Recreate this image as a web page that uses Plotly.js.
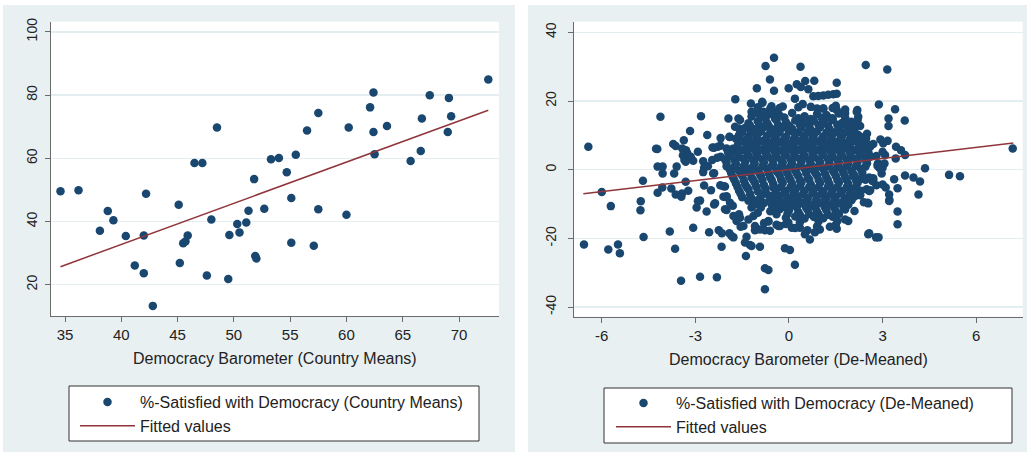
<!DOCTYPE html>
<html><head><meta charset="utf-8">
<script src="https://cdn.plot.ly/plotly-3.0.1.min.js"></script>
<style>html,body{margin:0;padding:0;background:#fff;} #chart{width:1027px;height:456px;}</style>
</head><body><div id="chart"></div>
<script>
// ---------- Left panel: country means ----------
const countryMeansX = [34.6,36.2,38.1,38.8,39.3,40.4,41.2,42.0,42.0,42.2,42.8,45.1,45.2,45.5,45.7,45.9,46.5,47.2,47.6,48.0,48.5,49.5,49.6,50.3,50.5,51.1,51.3,51.8,51.9,52.0,52.7,53.3,54.0,54.7,55.1,55.1,55.5,56.5,57.1,57.5,57.5,60.0,60.2,62.1,62.4,62.4,62.5,63.6,65.7,66.6,66.7,67.4,69.0,69.1,69.3,72.6];
const countryMeansY = [49.6,49.9,37.1,43.3,40.4,35.4,26.1,35.6,23.6,48.8,13.3,45.3,26.9,33.1,33.7,35.6,58.5,58.5,22.9,40.6,69.7,21.8,35.7,39.2,36.5,39.7,43.4,53.4,29.1,28.3,44.0,59.7,60.1,55.6,47.4,33.3,61.1,68.8,32.3,74.3,43.9,42.1,69.7,76.1,80.8,68.3,61.3,70.2,59.1,62.3,72.6,79.9,68.3,79.1,73.3,84.9];
const fitMeansX = [34.6, 72.6];
const fitMeansY = [25.7, 75.2];

// ---------- Right panel: de-meaned (x, y) ----------
const demeanedPoints = [
 // sparse / outer
 [-6.43,6.7],[-6.57,-21.8],[-6.0,-6.5],[-5.79,-23.2],[-5.71,-10.6],[-5.48,-21.8],[-5.42,-24.3],[-4.75,-9.2],[-4.76,-11.8],[-4.68,-3.2],[-4.66,-19.6],
 [-4.26,6.1],[-4.22,6.0],[-4.12,15.4],[-4.21,0.9],[-4.21,-6.7],[-4.05,0.9],[-4.05,-1.1],[-4.06,-5.2],[-3.82,-18.0],[-3.71,7.5],[-3.63,6.9],[-3.68,-1.1],[-3.65,-23.0],
 [-3.6,0.9],[-3.46,-32.3],[-3.37,8.6],[-3.3,5.7],[-3.42,6.2],[-3.35,2.8],[-3.26,4.8],[-3.15,3.8],[-3.4,4.2],[-3.43,-6.9],[-3.31,-3.5],[-3.23,-6.1],[-3.77,-5.5],[-3.63,-7.2],[-3.45,-7.9],
 [-3.31,2.3],[-3.07,2.6],[-3.17,11.3],[-3.07,-16.9],[-2.96,-11.0],[-2.92,5.2],[-2.85,-9.0],[-2.92,-9.1],[-2.85,-31.2],[-2.82,15.6],[-2.75,2.5],[-2.72,0.6],[-2.75,-0.7],[-2.72,-4.6],
 [-2.64,-12.2],[-2.62,10.1],[-2.56,-18.2],[-2.45,6.5],[-2.4,6.4],[-2.28,6.7],[-2.46,2.8],[-2.43,-1.1],[-2.37,-9.8],[-2.4,-10.1],[-2.31,-31.3],[-2.25,-17.6],[-2.19,9.2],[-2.19,3.8],
 [-2.16,-22.4],[-2.1,-7.9],[-2.05,-4.9],[-2.0,-11.7],[-2.1,-4.8],[-2.0,-7.7],[-1.89,-9.6],[-2.05,-11.5],[-2.15,-18.5],[-1.94,14.9],[-1.91,9.6],[-1.89,4.8],[-1.91,-18.5],[-1.78,-19.7],
 [-1.84,-19.3],[-1.72,20.5],[-1.73,12.5],[-1.68,-14.2],[-1.57,14.5],[-1.62,14.9],[-1.62,8.6],[-2.0,6.2],[-1.55,-16.6],[-1.46,-1.1],[-1.41,8.6],[-1.38,-25.1],[-1.36,-19.5],[-1.41,-21.2],
 [-1.25,-21.9],[-1.2,-22.2],[-1.22,19.3],[-1.22,10.8],[-1.14,-9.8],[-1.09,-17.6],[-1.03,23.7],[-0.98,16.4],[-1.2,16.9],[-0.93,-22.4],[-0.85,19.5],[-0.86,19.8],[-0.77,-28.7],[-0.66,-29.2],
 [-0.77,-34.8],[-0.75,30.2],[-0.61,26.3],[-0.77,-17.6],[-0.66,-15.1],[-0.48,32.6],[-0.48,23.0],[-0.56,18.5],[-0.4,16.9],[-0.82,16.9],[-0.34,-16.4],[-0.13,-22.9],[0.03,-23.4],
 [-0.01,23.7],[0.19,-27.7],[0.19,20.7],[0.25,24.9],[0.37,30.0],[0.38,24.1],[0.44,19.1],[0.52,25.8],[0.62,23.4],[0.81,25.9],[0.78,21.4],[0.94,21.5],[1.1,21.6],[1.26,21.8],[1.42,22.0],
 [1.53,22.1],[1.53,25.3],[0.59,-17.6],[0.67,-20.3],[0.51,-18.8],[0.35,-16.9],[0.83,-18.2],[0.99,-17.4],[1.31,-16.6],[1.53,-17.2],[1.55,-14.9],[1.9,-14.9],[2.0,-8.8],
 [-0.29,-16.4],[-0.02,-15.4],[0.09,-16.9],[-0.66,-14.9],[-1.14,-13.5],[-1.09,-16.4],[-0.93,-17.4],[-0.61,-17.8],[-1.57,-14.0],[-1.46,-16.4],[-1.68,-14.9],[-1.78,-13.5],
 [2.46,30.5],[3.15,29.2],[2.19,17.4],[2.17,16.9],[2.22,15.4],[2.28,12.7],[1.9,13.5],[2.47,9.1],[1.1,17.8],[1.26,15.2],[1.53,17.4],
 [2.57,-18.5],[2.79,-19.7],[2.87,-19.7],[2.54,-18.8],[2.88,19.0],[3.19,14.9],[3.19,12.7],[3.4,17.6],[3.71,14.3],[3.48,-12.2],[3.48,-15.9],[3.48,-5.4],[3.22,-8.8],[3.21,-9.1],[3.21,-7.2],
 [3.42,3.3],[3.43,6.7],[3.72,-1.7],[3.99,-2.3],[4.15,-7.2],[4.2,-3.4],[4.36,0.4],[5.13,-1.5],[5.48,-1.9],[7.17,6.2],[3.59,5.7],[3.72,4.3],[3.02,7.7],[3.08,4.3],[2.93,8.8],[3.16,8.4],
 [2.57,7.2],[3.0,5.2],[3.06,1.8],[2.84,1.6],[2.86,1.8],[2.97,-1.1],[3.0,0.6],[2.84,1.1],[2.7,-3.0],[2.8,-4.5],[2.67,-3.3],[3.0,-4.3],[3.1,-5.2],[3.37,-2.8],[2.57,-2.3],[2.57,-6.2],
 [2.52,-9.6],[2.54,-9.8],[2.28,-7.4],[2.28,-7.2],[2.49,-5.7],[2.28,-2.8],[2.06,-1.8],[2.6,6.7],[2.44,8.6],[2.22,10.1],[2.6,3.8],[2.52,4.0],
 // ring around the dense core
 [-2.2,7.0],[-2.3,3.5],[-2.4,-1.0],[-2.2,-4.5],[-2.0,-8.0],[-1.8,-10.5],[-1.6,-13.0],[-1.3,-14.5],[-1.0,-12.5],[-0.8,-15.5],[-0.4,-16.0],[-2.6,1.0],[-2.5,-6.0],
 [-1.9,9.5],[-1.6,12.0],[-1.2,15.5],[-0.3,18.0],[0.3,18.2],[0.9,17.8],[1.4,18.0],[1.8,16.5],[2.2,14.5],[2.5,10.5],[2.7,7.5],[2.8,4.0],[2.9,0.5],[2.7,-2.5],[2.6,-6.0],
 [2.4,-9.5],[2.1,-12.0],[1.8,-14.5],[1.5,-16.0],[0.9,-16.5],[0.2,-17.0],[-0.1,-15.8],[-1.2,-11.0],
 [-1.0,18.2],[-0.6,17.8],[-0.2,18.4],[0.7,18.3],[1.1,17.8],[1.5,18.6],[1.8,17.5],
 // dense core
 [-0.6,16.3],[-0.3,15.8],[0.1,16.5],[0.5,15.6],[0.9,16.2],[1.2,15.9],[1.6,16.4],[-0.9,15.2],
 [-0.75,15.0],[-0.45,14.9],[-0.15,15.2],[0.3,15.0],[0.7,14.8],[1.05,15.1],[1.4,15.0],[1.8,15.2],
 [-1.0,14.1],[-0.7,13.6],[-0.4,14.4],[-0.1,13.8],[0.2,14.3],[0.5,13.7],[0.8,14.2],[1.1,13.9],[1.4,14.5],[1.7,13.6],[2.0,14.0],[-1.3,13.5],
 [-1.25,12.9],[-0.95,13.1],[-0.65,12.8],[-0.35,13.0],[0.0,12.9],[0.35,13.1],[0.65,12.8],[0.95,13.0],[1.25,12.9],[1.55,13.1],[1.85,12.8],
 [-1.4,12.2],[-1.1,11.8],[-0.8,12.4],[-0.5,11.7],[-0.2,12.3],[0.1,11.9],[0.4,12.2],[0.7,11.6],[1.0,12.4],[1.3,11.8],[1.6,12.1],[1.9,11.5],[2.1,12.6],
 [-1.5,11.0],[-1.2,10.9],[-0.9,11.1],[-0.6,10.8],[-0.3,11.0],[0.0,11.1],[0.3,10.9],[0.6,11.0],[0.9,11.1],[1.2,10.8],[1.5,11.0],[1.8,10.9],[2.1,11.1],
 [-1.6,10.1],[-1.3,9.7],[-1.0,10.4],[-0.7,9.8],[-0.4,10.2],[-0.1,9.6],[0.2,10.3],[0.5,9.9],[0.8,10.2],[1.1,9.7],[1.4,10.3],[1.7,9.8],[2.0,10.1],[2.3,9.5],
 [-1.7,9.0],[-1.35,8.9],[-1.05,9.1],[-0.75,8.9],[-0.45,9.0],[-0.15,9.1],[0.15,8.9],[0.45,9.0],[0.75,9.1],[1.05,8.9],[1.35,9.0],[1.65,9.1],[1.95,8.9],[2.25,9.0],
 [-1.5,8.2],[-1.2,7.7],[-0.9,8.3],[-0.6,7.8],[-0.3,8.1],[0.0,7.6],[0.3,8.3],[0.6,7.9],[0.9,8.2],[1.2,7.7],[1.5,8.1],[1.8,7.8],[2.1,8.3],[2.4,7.6],
 [-1.65,7.0],[-1.35,6.9],[-1.05,7.1],[-0.75,6.9],[-0.45,7.0],[-0.15,7.1],[0.15,6.9],[0.45,7.0],[0.75,7.1],[1.05,6.9],[1.35,7.0],[1.65,7.1],[1.95,6.9],[2.25,7.0],[2.55,6.9],
 [-1.8,6.1],[-1.5,5.7],[-1.2,6.3],[-0.9,5.8],[-0.6,6.2],[-0.3,5.6],[0.0,6.1],[0.3,5.8],[0.6,6.3],[0.9,5.7],[1.2,6.2],[1.5,5.9],[1.8,6.2],[2.1,5.7],[2.4,6.1],
 [-1.95,5.0],[-1.65,4.9],[-1.35,5.1],[-1.05,4.9],[-0.75,5.0],[-0.45,5.1],[-0.15,4.9],[0.15,5.0],[0.45,5.1],[0.75,4.9],[1.05,5.0],[1.35,5.1],[1.65,4.9],[1.95,5.0],[2.25,5.1],[2.55,4.9],
 [-1.9,4.0],[-1.6,3.6],[-1.3,4.2],[-1.0,3.8],[-0.7,4.1],[-0.4,3.6],[-0.1,4.2],[0.2,3.8],[0.5,4.1],[0.8,3.7],[1.1,4.3],[1.4,3.8],[1.7,4.1],[2.0,3.6],[2.3,4.2],[2.6,3.9],
 [-2.05,3.0],[-1.75,2.9],[-1.45,3.1],[-1.15,2.9],[-0.85,3.0],[-0.55,3.1],[-0.25,2.9],[0.05,3.0],[0.35,3.1],[0.65,2.9],[0.95,3.0],[1.25,3.1],[1.55,2.9],[1.85,3.0],[2.15,3.1],[2.45,2.9],
 [-2.0,2.1],[-1.7,1.7],[-1.4,2.3],[-1.1,1.8],[-0.8,2.2],[-0.5,1.6],[-0.2,2.1],[0.1,1.8],[0.4,2.3],[0.7,1.7],[1.0,2.2],[1.3,1.8],[1.6,2.1],[1.9,1.7],[2.2,2.3],[2.5,1.9],
 [-2.0,1.0],[-1.75,0.9],[-1.45,1.1],[-1.15,0.9],[-0.85,1.0],[-0.55,1.1],[-0.25,0.9],[0.05,1.0],[0.35,1.1],[0.65,0.9],[0.95,1.0],[1.25,1.1],[1.55,0.9],[1.85,1.0],[2.15,1.1],[2.45,0.9],
 [-1.9,0.1],[-1.6,-0.3],[-1.3,0.3],[-1.0,-0.2],[-0.7,0.2],[-0.4,-0.4],[-0.1,0.1],[0.2,-0.2],[0.5,0.3],[0.8,-0.3],[1.1,0.2],[1.4,-0.2],[1.7,0.1],[2.0,-0.4],[2.3,0.2],
 [-1.85,-1.0],[-1.55,-1.1],[-1.25,-0.9],[-0.95,-1.0],[-0.65,-1.1],[-0.35,-0.9],[-0.05,-1.0],[0.25,-1.1],[0.55,-0.9],[0.85,-1.0],[1.15,-1.1],[1.45,-0.9],[1.75,-1.0],[2.05,-1.1],[2.35,-0.9],
 [-1.8,-2.1],[-1.5,-1.7],[-1.2,-2.3],[-0.9,-1.8],[-0.6,-2.2],[-0.3,-1.6],[0.0,-2.1],[0.3,-1.8],[0.6,-2.3],[0.9,-1.7],[1.2,-2.2],[1.5,-1.8],[1.8,-2.1],[2.1,-1.7],[2.4,-2.3],
 [-1.75,-3.0],[-1.45,-3.1],[-1.15,-2.9],[-0.85,-3.0],[-0.55,-3.1],[-0.25,-2.9],[0.05,-3.0],[0.35,-3.1],[0.65,-2.9],[0.95,-3.0],[1.25,-3.1],[1.55,-2.9],[1.85,-3.0],[2.15,-3.1],[2.45,-2.9],
 [-1.7,-4.0],[-1.4,-4.3],[-1.1,-3.7],[-0.8,-4.5],[-0.5,-4.2],[-0.2,-3.8],[0.1,-4.1],[0.4,-3.7],[0.7,-4.3],[1.0,-3.8],[1.3,-4.2],[1.6,-3.7],[1.9,-4.1],[2.2,-3.8],
 [-1.65,-5.0],[-1.35,-5.1],[-1.05,-4.9],[-0.75,-5.5],[-0.5,-5.2],[-0.25,-5.0],[0.05,-5.1],[0.35,-4.9],[0.65,-5.0],[0.95,-5.1],[1.25,-4.9],[1.55,-5.0],[1.85,-5.1],[2.15,-4.9],
 [-1.6,-6.1],[-1.3,-5.7],[-1.0,-6.3],[-0.75,-6.5],[-0.4,-5.6],[-0.1,-6.2],[0.2,-5.8],[0.5,-6.1],[0.8,-5.7],[1.1,-6.3],[1.4,-5.8],[1.7,-6.2],[2.0,-5.7],[2.3,-6.1],
 [-1.55,-7.0],[-1.25,-7.1],[-0.65,-7.5],[-0.45,-7.0],[-0.15,-6.9],[0.15,-7.0],[0.45,-7.1],[0.75,-6.9],[1.05,-7.0],[1.35,-7.1],[1.65,-6.9],[1.95,-7.0],[2.2,-7.1],
 [-1.5,-8.0],[-1.2,-8.3],[-0.9,-7.7],[-0.6,-8.5],[-0.3,-7.6],[0.0,-8.2],[0.3,-7.8],[0.6,-8.3],[0.9,-7.7],[1.2,-8.1],[1.5,-7.9],[1.8,-8.2],[2.1,-7.8],
 [-1.3,-9.0],[-1.0,-8.9],[-0.4,-9.2],[-0.1,-9.1],[0.2,-8.9],[0.55,-9.0],[0.85,-9.1],[1.15,-8.9],[1.45,-9.0],[1.75,-9.1],[2.0,-8.9],
 [-1.1,-10.1],[-0.8,-9.7],[-0.55,-10.3],[-0.2,-9.6],[0.1,-10.2],[0.4,-9.8],[0.7,-10.3],[1.0,-9.7],[1.3,-10.1],[1.6,-9.8],[1.9,-10.2],
 [-0.9,-11.0],[-0.45,-10.9],[-0.1,-11.1],[0.25,-10.9],[0.55,-11.0],[0.85,-11.1],[1.15,-10.9],[1.45,-11.0],[1.75,-11.1],
 [-0.6,-12.1],[-0.3,-11.5],[0.0,-11.8],[0.3,-12.3],[0.6,-11.7],[0.9,-12.2],[1.2,-11.8],[1.5,-12.1],[1.8,-11.6],
 [-0.4,-13.0],[-0.05,-12.9],[0.35,-13.1],[0.65,-12.9],[0.95,-13.0],[1.25,-13.1],[1.6,-12.9],
 [-0.1,-14.0],[0.2,-13.6],[0.5,-14.2],[0.8,-13.8],[1.1,-14.1],[1.4,-13.7],[0.35,-15.3],[0.95,-15.0]
];
const fitDemeanedX = [-6.59, 7.19];
const fitDemeanedY = [-6.98, 7.76];

const xTicksLeft = [35,40,45,50,55,60,65,70];
const yTicksLeft = [20,40,60,80,100];
const xTicksRight = [-6,-3,0,3,6];
const xTickTextRight = ['-6','-3','0','3','6'];
const yTicksRight = [-40,-20,0,20,40];
const yTickTextRight = ['-40','-20','0','20','40'];

const seriesNames = ['%-Satisfied with Democracy (Country Means)','Fitted values','%-Satisfied with Democracy (De-Meaned)','Fitted values'];
const xTitles = ['Democracy Barometer (Country Means)','Democracy Barometer (De-Meaned)'];

// ---------- styling ----------
const W = 1027, H = 456;
const px = v => v / W, py = v => 1 - v / H;
const NAVY = '#1a476f', MAROON = '#90353b', PANEL = '#e9f0f2', GRID = '#e4edf0';
const FONT = 'Liberation Sans, Arial, sans-serif';

const traces = [
  {x: countryMeansX, y: countryMeansY, type:'scatter', mode:'markers', name: seriesNames[0],
   marker:{color:NAVY, size:8.5}, xaxis:'x', yaxis:'y', legend:'legend'},
  {x: fitMeansX, y: fitMeansY, type:'scatter', mode:'lines', name: seriesNames[1],
   line:{color:MAROON, width:1.5}, xaxis:'x', yaxis:'y', legend:'legend'},
  {x: demeanedPoints.map(p=>p[0]), y: demeanedPoints.map(p=>p[1]), type:'scatter', mode:'markers', name: seriesNames[2],
   marker:{color:NAVY, size:8.5}, xaxis:'x2', yaxis:'y2', legend:'legend2'},
  {x: fitDemeanedX, y: fitDemeanedY, type:'scatter', mode:'lines', name: seriesNames[3],
   line:{color:MAROON, width:1.5}, xaxis:'x2', yaxis:'y2', legend:'legend2'}
];

const axisCommon = {
  showline:true, linecolor:'#6b6b6b', linewidth:1.2, mirror:false,
  ticks:'outside', ticklen:5, tickcolor:'#6b6b6b', tickwidth:1,
  zeroline:false, fixedrange:true
};
const xCommon = Object.assign({}, axisCommon, {
  showgrid:false, tickfont:{family:FONT, size:15, color:'#222'},
  title:{font:{family:FONT, size:16, color:'#222'}, standoff:10}
});
const yCommon = Object.assign({}, axisCommon, {
  showgrid:true, gridcolor:GRID, gridwidth:1.5, tickangle:-90,
  tickfont:{family:FONT, size:14, color:'#222'}
});

const legendCommon = {
  bgcolor:'rgba(0,0,0,0)', borderwidth:0, orientation:'v',
  xanchor:'left', yanchor:'top', itemwidth:55, tracegroupgap:0,
  font:{family:FONT, size:16, color:'#222'}, itemclick:false, itemdoubleclick:false
};

const layout = {
  width:W, height:H, margin:{l:0,r:0,t:0,b:0,pad:0},
  paper_bgcolor:PANEL, plot_bgcolor:'#ffffff',
  showlegend:true,
  xaxis: Object.assign({}, xCommon, {domain:[px(50.7), px(499)], range:[33.73,73.55], tickvals:xTicksLeft, anchor:'y',
          title:Object.assign({}, xCommon.title, {text:xTitles[0]})}),
  yaxis: Object.assign({}, yCommon, {domain:[py(316), py(21.7)], range:[10.1,103.2], tickvals:yTicksLeft, anchor:'x', ticklabelstandoff:2}),
  xaxis2: Object.assign({}, xCommon, {domain:[px(574), px(1022.7)], range:[-6.89,7.49], tickvals:xTicksRight, ticktext:xTickTextRight, anchor:'y2',
          title:Object.assign({}, xCommon.title, {text:xTitles[1]})}),
  yaxis2: Object.assign({}, yCommon, {domain:[py(316.7), py(21.7)], range:[-42.8,43.1], tickvals:yTicksRight, ticktext:yTickTextRight, anchor:'x2', ticklabelstandoff:6}),
  legend: Object.assign({}, legendCommon, {x:px(75), y:py(385)}),
  legend2: Object.assign({}, legendCommon, {x:px(611), y:py(386)}),
  shapes: [
    {type:'rect', xref:'paper', yref:'paper', x0:0, x1:1, y0:py(0), y1:py(5), fillcolor:'#fff', line:{width:0}, layer:'below'},
    {type:'rect', xref:'paper', yref:'paper', x0:0, x1:1, y0:py(452), y1:py(456), fillcolor:'#fff', line:{width:0}, layer:'below'},
    {type:'rect', xref:'paper', yref:'paper', x0:0, x1:px(3), y0:0, y1:1, fillcolor:'#fff', line:{width:0}, layer:'below'},
    {type:'rect', xref:'paper', yref:'paper', x0:px(515), x1:px(528), y0:0, y1:1, fillcolor:'#fff', line:{width:0}, layer:'below'},
    {type:'rect', xref:'paper', yref:'paper', x0:px(69), x1:px(479), y0:py(441), y1:py(386), fillcolor:'#fff', line:{color:'#333', width:1}, layer:'below'},
    {type:'rect', xref:'paper', yref:'paper', x0:px(604), x1:px(1012), y0:py(443), y1:py(388), fillcolor:'#fff', line:{color:'#333', width:1}, layer:'below'}
  ]
};

Plotly.newPlot('chart', traces, layout, {displayModeBar:false, staticPlot:true});
</script>
</body></html>
